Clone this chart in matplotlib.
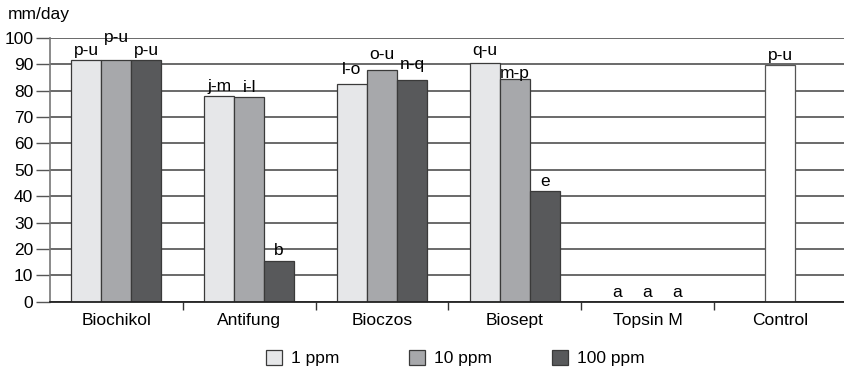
import numpy as np
import matplotlib
matplotlib.use("Agg")
import matplotlib.pyplot as plt
from matplotlib.patches import Patch

plt.rcParams['font.family'] = ['Liberation Sans', 'DejaVu Sans']

categories = ["Biochikol", "Antifung", "Bioczos", "Biosept", "Topsin M", "Control"]
series_names = ["1 ppm", "10 ppm", "100 ppm"]
vals_1ppm = [91.6, 78.1, 82.5, 90.5, 0.0]
vals_10ppm = [91.6, 77.6, 88.0, 84.5, 0.0]
vals_100ppm = [91.6, 15.6, 84.2, 42.0, 0.0]
control_value = 89.9
letters_1ppm = ["p-u", "j-m", "l-o", "q-u", "a"]
letters_10ppm = ["p-u", "i-l", "o-u", "m-p", "a"]
letters_100ppm = ["p-u", "b", "n-q", "e", "a"]
control_letter = "p-u"
yticks = list(range(0, 101, 10))

colors = ["#e6e7e9", "#a7a8ab", "#58595b"]
edge = "#3a3a3a"
fs = 12.5

fig = plt.figure(figsize=(8.45, 3.8), dpi=100)
ax = fig.add_axes([50/845, 1-301.7/380, 1-50/845+0.002, (301.7-38)/380])

n = len(vals_1ppm)
x = np.arange(n)
w = 0.226
series = [vals_1ppm, vals_10ppm, vals_100ppm]
letters = [letters_1ppm, letters_10ppm, letters_100ppm]
extra = {(0, 1): 9.5, (2, 0): 4, (2, 1): 4, (2, 2): 4, (3, 0): 2, (3, 1): -3}
for i, (vals, labs) in enumerate(zip(series, letters)):
    xs = x + (i - 1) * w
    ax.bar(xs, vals, width=w, color=colors[i], edgecolor=edge, linewidth=0.9, zorder=3)
    for j, (xx, v, t) in enumerate(zip(xs, vals, labs)):
        ax.annotate(t, (xx, v), xytext=(0, 1.5 + extra.get((j, i), 0)),
                    textcoords="offset points", ha="center", va="bottom", fontsize=fs, zorder=4)

ax.bar([n], [control_value], width=w, color="white", edgecolor="#555555", linewidth=0.9, zorder=3)
ax.annotate(control_letter, (n, control_value), xytext=(0, 1.5), textcoords="offset points",
            ha="center", va="bottom", fontsize=fs, zorder=4)

ax.set_xlim(-0.5, 5.5)
ax.set_ylim(0, 100)
ax.set_yticks(yticks)
ax.set_yticklabels([str(t) for t in yticks], fontsize=fs)
ax.set_xticks(np.arange(6))
ax.set_xticklabels(categories, fontsize=fs)
ax.tick_params(axis="x", length=0, pad=8)
ax.set_xticks(np.arange(6) + 0.5, minor=True)
ax.tick_params(axis="x", which="minor", length=6, width=1, color="#333333", direction="out")
ax.tick_params(axis="y", length=10, width=1, color="#555555", pad=2)

ax.yaxis.grid(True, color="#5e5e5e", linewidth=1.3, zorder=0)
ax.set_axisbelow(True)
for s in ["top", "right"]:
    ax.spines[s].set_visible(False)
ax.spines["left"].set_color("#777777")
ax.spines["left"].set_linewidth(1.2)
ax.spines["bottom"].set_color("#222222")
ax.spines["bottom"].set_linewidth(1.3)
ax.spines["bottom"].set_zorder(5)

fig.text(8/845, 1-14/380, "mm/day", fontsize=fs, ha="left", va="center")

legend_x = [266, 409, 552]
for i in range(3):
    h = Patch(facecolor=colors[i], edgecolor=edge, linewidth=0.9, label=series_names[i])
    fig.legend(handles=[h], loc="center left", bbox_to_anchor=(legend_x[i]/845, 1-358/380),
               frameon=False, fontsize=fs, handlelength=0.95, handleheight=0.95,
               handletextpad=0.5, borderpad=0, borderaxespad=0)

fig.savefig("out.png", dpi=100)
